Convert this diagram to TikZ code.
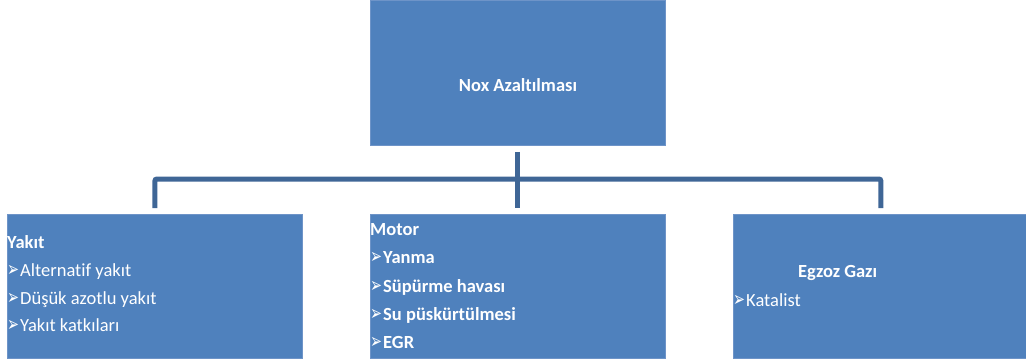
\documentclass[tikz,border=0pt]{standalone}
\usepackage{fontspec}
\usepackage{graphicx}
\setmainfont{Carlito}[Ligatures=NoCommon]
\newfontfamily\dejavu{DejaVu Sans}
\definecolor{boxblue}{RGB}{79,129,189}
\definecolor{boxedge}{RGB}{110,148,200}
\definecolor{linkblue}{RGB}{63,102,150}
\newcommand{\bul}{\makebox[13pt][l]{\scalebox{0.68}[1]{\dejavu\fontsize{21}{21}\selectfont ➢}}}
\begin{document}
\begin{tikzpicture}[x=1pt,y=-1pt,
  box/.style={draw=boxedge,line width=0.8pt,fill=boxblue,minimum width=295pt,minimum height=144pt,inner sep=0pt,anchor=north west},
  txt/.style={text=white,font=\fontsize{18.5}{20}\selectfont,inner sep=0pt,anchor=base west},
  btxt/.style={txt,font=\fontsize{18.5}{20}\selectfont\bfseries},
  conn/.style={draw=linkblue,line width=5pt,rounded corners=2pt,shorten <=6pt,shorten >=6pt}]
\useasboundingbox (0,0) rectangle (1026,361);
\node[box,minimum height=145pt] (top) at (370,0) {};
\node[box] (left) at (7,214) {};
\node[box] (mid) at (370,214) {};
\node[box] (right) at (733,214) {};
\coordinate (bus) at (518,179);
\draw[conn] (top.south) -- (mid.north);
\draw[conn] (left.north) |- (bus) -| (right.north);
\node[btxt,anchor=base] (ttl) at (518,92) {Nox Azaltılması};
\node[btxt] (l0) at (7,248) {Yakıt};
\node[txt] (l1) at (7,276) {\bul Alternatif yakıt};
\node[txt] (l2) at (7,304) {\bul Düşük azotlu yakıt};
\node[txt] (l3) at (7,331) {\bul Yakıt katkıları};
\node[btxt] (m0) at (370,235) {Motor};
\node[btxt] (m1) at (370,263) {\bul Yanma};
\node[btxt] (m2) at (370,292) {\bul Süpürme havası};
\node[btxt] (m3) at (370,320) {\bul Su püskürtülmesi};
\node[btxt] (m4) at (370,348) {\bul EGR};
\node[btxt] (r0) at (798,277) {Egzoz Gazı};
\node[txt] (r1) at (733,306) {\bul Katalist};
\end{tikzpicture}
\end{document}
